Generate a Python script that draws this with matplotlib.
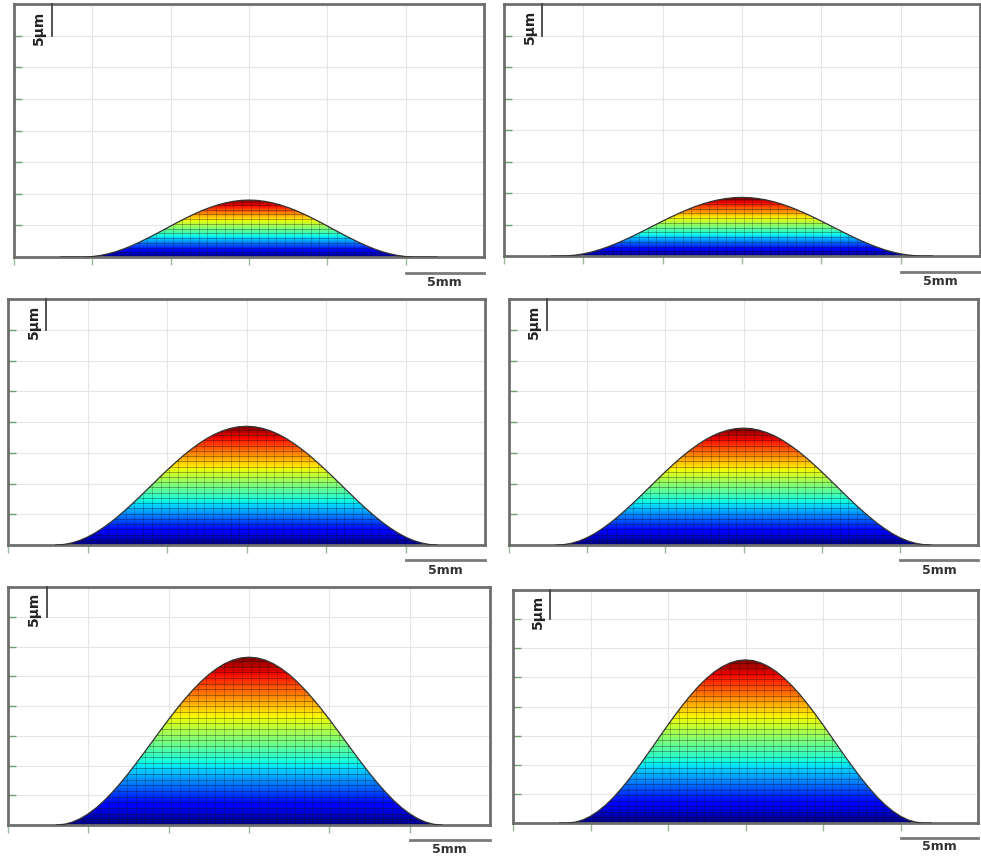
import numpy as np
import matplotlib
matplotlib.use("Agg")
import matplotlib.pyplot as plt
from matplotlib.patches import Polygon

# profiles: heights in um on a 0.5 mm grid from 3 to 27 mm
x_mm = np.arange(3.0, 27.25, 0.5)

h_a1 = [0, 0, 0, 0, 0.07, 0.24, 0.50, 0.84, 1.27, 1.77, 2.33, 2.94, 3.57, 4.23, 4.90, 5.56,
        6.19, 6.79, 7.34, 7.82, 8.23, 8.56, 8.80, 8.95, 9.00, 8.95, 8.80, 8.56, 8.23, 7.82,
        7.34, 6.79, 6.19, 5.56, 4.90, 4.23, 3.57, 2.94, 2.33, 1.77, 1.27, 0.84, 0.50, 0.24,
        0.07, 0, 0, 0, 0]

h_a2 = [0, 0, 0.03, 0.14, 0.34, 0.62, 0.98, 1.41, 1.90, 2.44, 3.02, 3.63, 4.27, 4.91, 5.54,
        6.16, 6.75, 7.30, 7.80, 8.24, 8.61, 8.91, 9.12, 9.26, 9.30, 9.26, 9.12, 8.91, 8.61,
        8.24, 7.80, 7.30, 6.75, 6.16, 5.54, 4.91, 4.27, 3.63, 3.02, 2.44, 1.90, 1.41, 0.98,
        0.62, 0.34, 0.14, 0.03, 0, 0]

h_b1 = [0, 0.08, 0.33, 0.73, 1.29, 1.99, 2.83, 3.78, 4.83, 5.96, 7.15, 8.39, 9.65, 10.91,
        12.15, 13.34, 14.48, 15.52, 16.47, 17.31, 18.01, 18.57, 18.97, 19.22, 19.30, 19.22,
        18.97, 18.57, 18.01, 17.31, 16.47, 15.52, 14.48, 13.34, 12.15, 10.91, 9.65, 8.39,
        7.15, 5.96, 4.83, 3.78, 2.83, 1.99, 1.29, 0.73, 0.33, 0.08, 0]

h_b2 = [0, 0.06, 0.28, 0.66, 1.20, 1.88, 2.71, 3.64, 4.68, 5.79, 6.96, 8.19, 9.43, 10.68,
        11.91, 13.09, 14.22, 15.26, 16.19, 17.02, 17.72, 18.27, 18.67, 18.92, 19.00, 18.92,
        18.67, 18.27, 17.72, 17.02, 16.19, 15.26, 14.22, 13.09, 11.91, 10.68, 9.43, 8.19,
        6.96, 5.79, 4.68, 3.64, 2.71, 1.88, 1.20, 0.66, 0.28, 0.06, 0]

h_c1 = [0, 0.12, 0.48, 1.07, 1.89, 2.91, 4.13, 5.52, 7.05, 8.70, 10.45, 12.26, 14.10, 15.94,
        17.75, 19.50, 21.15, 22.68, 24.07, 25.29, 26.31, 27.13, 27.72, 28.08, 28.20, 28.08,
        27.72, 27.13, 26.31, 25.29, 24.07, 22.68, 21.15, 19.50, 17.75, 15.94, 14.10, 12.26,
        10.45, 8.70, 7.05, 5.52, 4.13, 2.91, 1.89, 1.07, 0.48, 0.12, 0]

h_c2 = [0, 0, 0.13, 0.52, 1.16, 2.04, 3.14, 4.44, 5.94, 7.56, 9.32, 11.15, 13.04, 14.96,
        16.85, 18.69, 20.44, 22.07, 23.56, 24.86, 25.96, 26.84, 27.48, 27.87, 28.00, 27.87,
        27.48, 26.84, 25.96, 24.86, 23.56, 22.07, 20.44, 18.69, 16.85, 14.96, 13.04, 11.15,
        9.32, 7.56, 5.94, 4.44, 3.14, 2.04, 1.16, 0.52, 0.13, 0, 0]

x_ticks = [0, 5, 10, 15, 20, 25]
y_ticks = [5, 10, 15, 20, 25, 30, 35]

W, H = 981, 865
# panel boxes in pixels: left, right, top, bottom
boxes = [(14, 484, 4, 257), (504, 980, 4, 256),
         (8, 485, 299, 545), (509, 978, 299, 545),
         (8, 490, 587, 825), (513, 978, 590, 823)]
profiles = [h_a1, h_a2, h_b1, h_b2, h_c1, h_c2]
band_step = [0.75, 0.75, 0.85, 0.85, 0.95, 0.95]


def draw_panel(ax, xs, hs, step):
    ax.set_xlim(0, 30)
    ax.set_ylim(0, 40)
    ax.set_xticks(x_ticks)
    ax.set_yticks(y_ticks)
    ax.set_xticklabels([])
    ax.set_yticklabels([])
    ax.grid(True, color='#e6e6e6', lw=0.8)
    ax.set_axisbelow(True)
    ax.tick_params(axis='x', direction='out', length=6, width=1, color='#9cb89c')
    ax.tick_params(axis='y', direction='in', length=6, width=1, color='#6f9f6f')
    for s in ax.spines.values():
        s.set_color('#6e6e6e')
        s.set_linewidth(2)

    peak = max(hs)
    poly = Polygon(list(zip(xs, hs)), closed=True, facecolor='none', edgecolor='none')
    ax.add_patch(poly)

    grad = np.linspace(0, 1, 256).reshape(-1, 1)
    im = ax.imshow(grad, cmap='jet', origin='lower', aspect='auto',
                   extent=[xs[0], xs[-1], 0, peak], zorder=2)
    im.set_clip_path(poly)

    # mesh lines of the surface
    levels = np.arange(step, peak, step)
    hl = ax.hlines(levels, xs[0], xs[-1], colors='#101010', lw=0.55, alpha=0.45, zorder=3)
    hl.set_clip_path(poly)
    cols = np.arange(xs[0], xs[-1], 0.55)
    vl = ax.vlines(cols, 0, peak, colors='#101010', lw=0.5, alpha=0.35, zorder=3)
    vl.set_clip_path(poly)
    ax.plot(xs, hs, color='#333333', lw=0.9, zorder=4)

    # 5 um scale bar
    ax.plot([2.4, 2.4], [35, 40], color='#444444', lw=1.3, clip_on=False, zorder=5)
    ax.text(1.6, 36.3, '5µm', rotation=90, ha='center', va='center',
            fontsize=10, fontweight='bold', color='#222222', zorder=5)
    # 5 mm scale bar
    ax.plot([25, 30], [-2.5, -2.5], color='#7a7a7a', lw=2, clip_on=False)
    ax.text(27.5, -4.1, '5mm', ha='center', va='center', fontsize=9,
            fontweight='bold', color='#333333')


def main():
    fig = plt.figure(figsize=(W / 100, H / 100), dpi=100)
    for (l, r, t, b), hs, st in zip(boxes, profiles, band_step):
        ax = fig.add_axes([l / W, 1 - b / H, (r - l) / W, (b - t) / H])
        draw_panel(ax, x_mm, hs, st)
    fig.savefig('out.png', dpi=100)


if __name__ == "__main__":
    main()
